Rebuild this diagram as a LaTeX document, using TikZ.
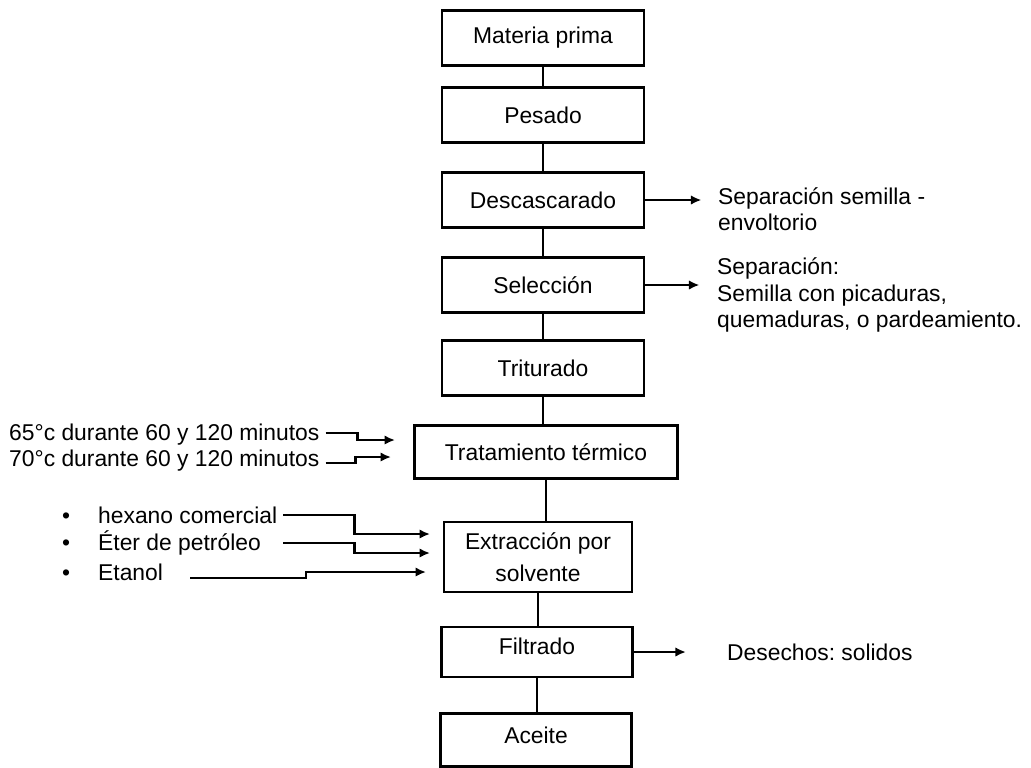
\documentclass[tikz,border=0pt]{standalone}
\usepackage{fontspec}
\setmainfont{Liberation Sans}
\usetikzlibrary{arrows.meta,positioning}
\frenchspacing
\tikzset{
  paso/.style={draw, line width=1.6pt, minimum width=40.4mm, minimum height=11mm, align=center},
  texto/.style={anchor=west, align=left},
  linea/.style={line width=1.2pt},
  flecha/.style={line width=1.2pt, -{Latex[length=2.1mm,width=1.9mm]}},
}
\begin{document}
\begin{tikzpicture}[x=0.2mm,y=-0.2mm,font=\fontsize{13}{15}\selectfont]
            \useasboundingbox (0,0) rectangle (1031,767);
            % proceso
            \node[paso] (mp) at (543,38) {Materia prima};
            \node[paso] (pes) at (543,115) {Pesado};
            \node[paso] (desc) at (543,200) {Descascarado};
            \node[paso] (sel) at (543,285) {Selección};
            \node[paso] (trit) at (543,368) {Triturado};
            \node[paso, minimum width=52.6mm, minimum height=10.6mm] (trat) at (546,452) {Tratamiento térmico};
            \node[paso, minimum width=37.6mm, minimum height=14mm, font=\fontsize{13}{18}\selectfont] (ext) at (538,557) {Extracción por\\solvente};
            \node[paso, minimum width=38.2mm, minimum height=10mm, text depth=2.4mm] (filt) at (537,652) {Filtrado};
            \node[paso, minimum width=38.2mm, minimum height=10.6mm, text depth=2mm] (ace) at (536,740) {Aceite};
            
            % salidas
            \node[texto] (sepA) at (712,209) {Separación semilla -\\envoltorio};
            \node[texto] (sepB) at (711,295) {Separación:\\Semilla con picaduras,\\quemaduras, o pardeamiento.};
            \node[texto] (des) at (721,652) {Desechos: solidos};
            \coordinate[right=11.2mm of desc.east] (o1);
            \coordinate[right=10.8mm of sel.east] (o2);
            \coordinate[right=10.4mm of filt.east] (o3);
            
            % entradas
            \node[texto] (t65) at (3,435) {65°c durante 60 y 120 minutos};
            \node[texto] (t70) at (3,461) {70°c durante 60 y 120 minutos};
            \node[texto] (hex) at (56,515) {\textbullet\hspace{5.6mm}hexano comercial};
            \node[texto] (eter) at (56,543) {\textbullet\hspace{5.6mm}Éter de petróleo};
            \node[texto] (eta) at (56,572) {\textbullet\hspace{5.6mm}Etanol};
            \coordinate (in65) at (395,440);
            \coordinate (in70) at (391,457);
            \coordinate (in1) at (430,534);
            \coordinate (in2) at (430,553);
            \coordinate (in3) at (426,572);
            
            \draw[linea] (mp) -- (pes);
            \draw[linea] (pes) -- (desc);
            \draw[linea] (desc) -- (sel);
            \draw[linea] (sel) -- (trit);
            \draw[linea] (trit.south) -- (trit.south |- trat.north);
            \draw[linea] (trat) -- (trat |- ext.north);
            \draw[linea] (ext) -- (ext |- filt.north);
            \draw[linea] (filt.south) -- (filt.south |- ace.north);
            
            \draw[flecha] (desc.east) -- (o1);
            \draw[flecha] (sel.east) -- (o2);
            \draw[flecha] (filt.east) -- (o3);
            
            \draw[flecha] ([yshift=0.4mm]t65.east) -- ++(32,0) |- (in65);
            \draw[flecha] ([yshift=-0.4mm]t70.east) -- ++(30,0) |- (in70);
            \draw[flecha] (hex.east) -- ++(71,0) |- (in1);
            \draw[flecha] (eter.east -| hex.east) -- ++(71,0) |- (in2);
            \draw[flecha] ([xshift=4.2mm,yshift=-1.2mm]eta.east) -- ++(116,0) |- (in3);
          \end{tikzpicture}
\end{document}
